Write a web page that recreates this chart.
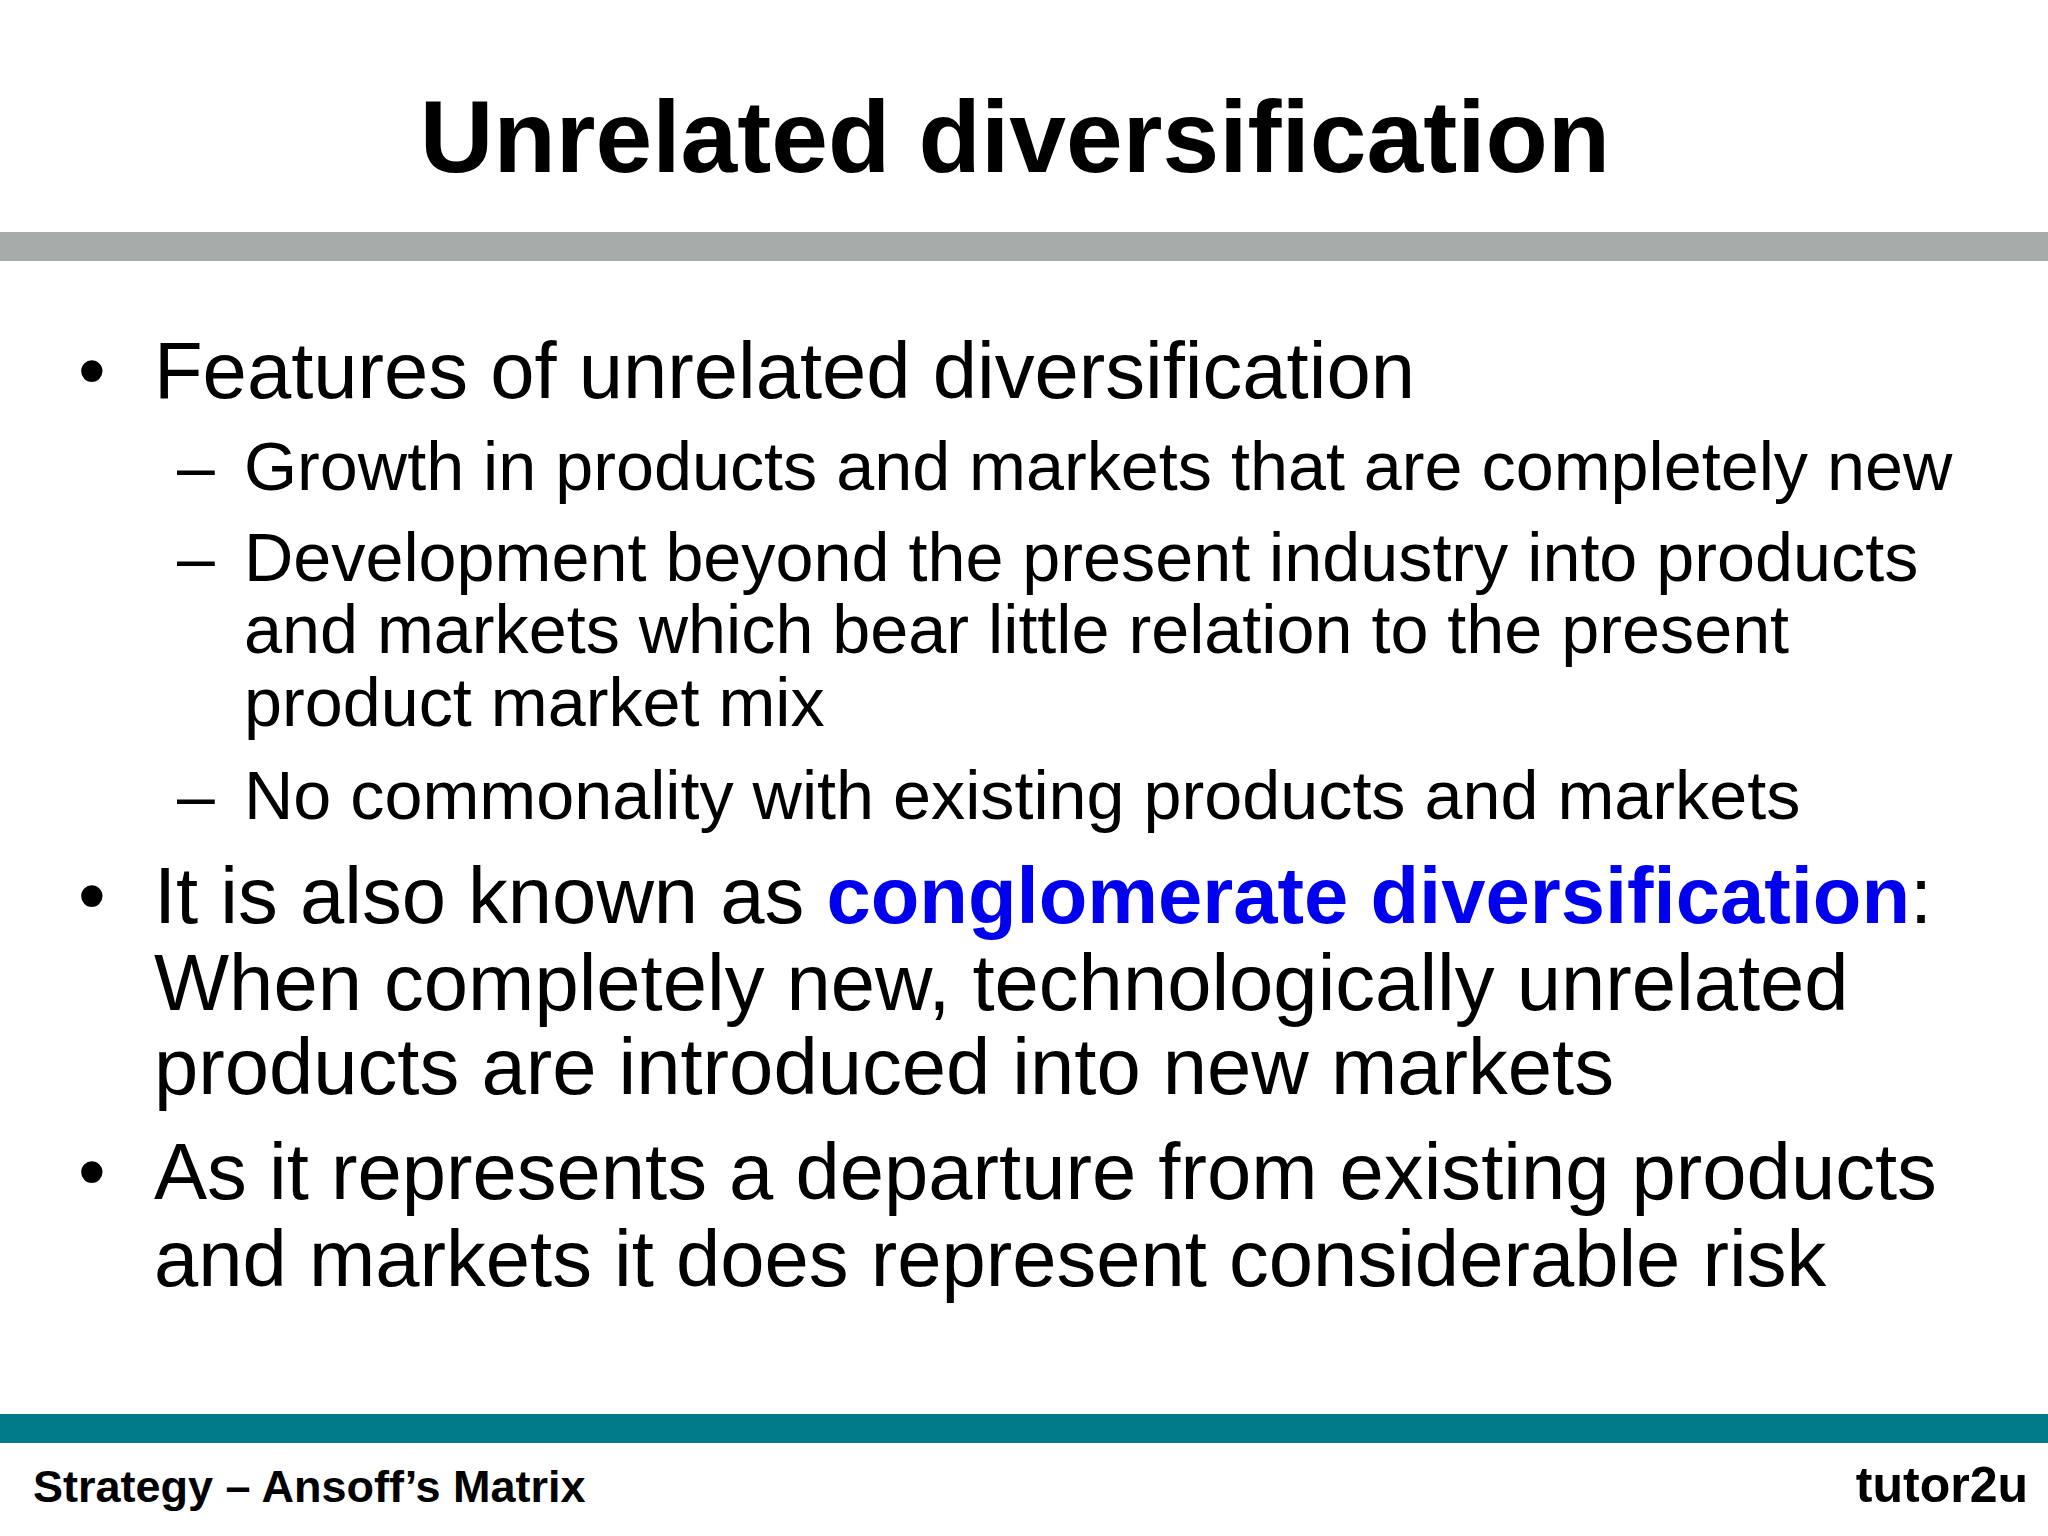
<!DOCTYPE html>
<html><head><meta charset="utf-8">
<script src="https://cdn.jsdelivr.net/npm/chart.js@4"></script>
<style>
html,body{margin:0;padding:0;background:#fff;}
body{width:2048px;height:1536px;position:relative;overflow:hidden;font-family:"Liberation Sans",Arial,sans-serif;color:#000;}
.l{position:absolute;white-space:nowrap;line-height:1;}
.t{font-size:102px;font-weight:bold;left:0;width:2030px;text-align:center;}
.b{font-size:79.6px;left:154px;}
.s{font-size:68.3px;left:244px;}
.dot{font-size:79px;left:78px;}
.dash{font-size:68px;left:177px;}
.blue{color:#0000ee;font-weight:bold;}
.bar{position:absolute;left:0;width:2048px;}
</style></head><body>
<div class="l t" style="top:86px">Unrelated diversification</div>
<div class="bar" style="top:232px;height:29px;background:#a7aba9"></div>

<div class="l dot" style="top:331px">•</div>
<div class="l b" style="top:331px">Features of unrelated diversification</div>
<div class="l dash" style="top:432px">–</div>
<div class="l s" style="top:432px">Growth in products and markets that are completely new</div>
<div class="l dash" style="top:523px">–</div>
<div class="l s" style="top:523px">Development beyond the present industry into products</div>
<div class="l s" style="top:595px">and markets which bear little relation to the present</div>
<div class="l s" style="top:668px">product market mix</div>
<div class="l dash" style="top:761px">–</div>
<div class="l s" style="top:761px">No commonality with existing products and markets</div>

<div class="l dot" style="top:856px">•</div>
<div class="l b" style="top:856px">It is also known as <span class="blue">conglomerate diversification</span>:</div>
<div class="l b" style="top:943px">When completely new, technologically unrelated</div>
<div class="l b" style="top:1027px">products are introduced into new markets</div>

<div class="l dot" style="top:1132px">•</div>
<div class="l b" style="top:1132px">As it represents a departure from existing products</div>
<div class="l b" style="top:1219px">and markets it does represent considerable risk</div>

<div class="bar" style="top:1414px;height:29px;background:#017a8a"></div>
<div class="l" style="top:1464px;left:33px;font-size:45px;font-weight:bold">Strategy – Ansoff’s Matrix</div>
<div class="l" style="top:1460px;right:20px;font-size:50px;font-weight:bold">tutor2u</div>
</body></html>
